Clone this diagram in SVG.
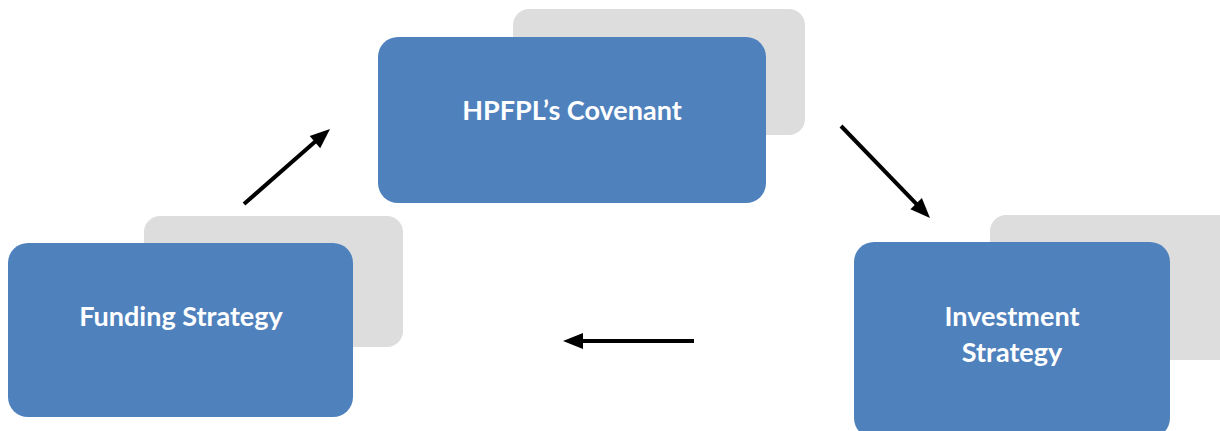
<svg xmlns="http://www.w3.org/2000/svg" width="1220" height="431" viewBox="0 0 1220 431">
  <style>
    .back { fill: #dddddd; }
    .front { fill: #4f81bd; }
    .label { fill: #ffffff; font-family: Lato, "Open Sans", "Liberation Sans", sans-serif; font-weight: bold; font-size: 27px; text-anchor: middle; }
    .shaft { stroke: #000000; stroke-width: 4; fill: none; }
    .tip { fill: #000000; }
  </style>
  <rect width="1220" height="431" fill="#ffffff"/>

  <g id="covenant">
    <rect class="back" x="513" y="9" width="292" height="126" rx="16"/>
    <rect class="front" x="378" y="37" width="388" height="166" rx="20"/>
    <text class="label" x="572" y="120">HPFPL’s Covenant</text>
  </g>

  <g id="funding">
    <rect class="back" x="144" y="216" width="259" height="131" rx="16"/>
    <rect class="front" x="8" y="243" width="345" height="174" rx="20"/>
    <text class="label" x="181" y="326">Funding Strategy</text>
  </g>

  <g id="investment">
    <rect class="back" x="990" y="215" width="250" height="145" rx="16"/>
    <rect class="front" x="854" y="242" width="316" height="196" rx="20"/>
    <text class="label" x="1012" y="326">Investment</text>
    <text class="label" x="1012" y="362">Strategy</text>
  </g>

  <g id="connectors">
    <!-- funding -> covenant -->
    <line class="shaft" x1="244" y1="204" x2="317" y2="140"/>
    <polygon class="tip" points="330,129 320.2,148.2 309.7,136.1"/>
    <!-- covenant -> investment -->
    <line class="shaft" x1="841" y1="126" x2="918" y2="205.6"/>
    <polygon class="tip" points="930,218 910.4,209.2 921.9,198.1"/>
    <!-- investment -> funding -->
    <line class="shaft" x1="694" y1="341" x2="581" y2="341"/>
    <polygon class="tip" points="563,341 583,333 583,349"/>
  </g>
</svg>
